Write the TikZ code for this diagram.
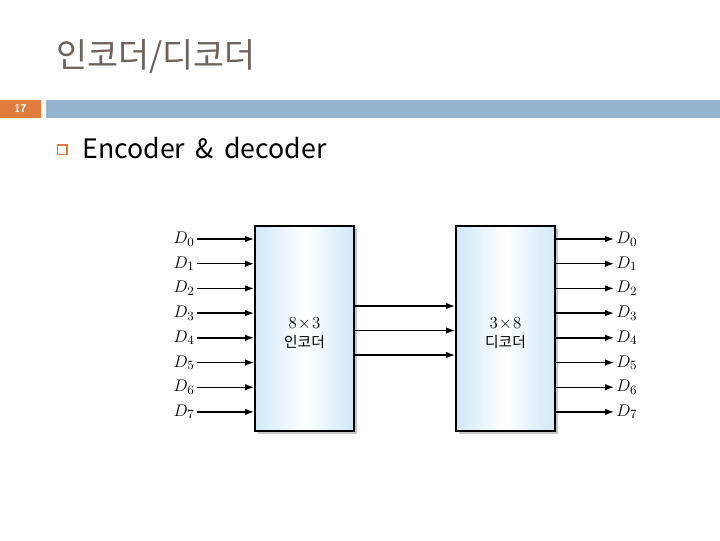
\documentclass[tikz,border=0pt]{standalone}
\usepackage{fontspec}
\usepackage{amsmath}
\usetikzlibrary{arrows.meta,shadows}
\newfontfamily\krfont{Noto Sans CJK KR}
\definecolor{titlegray}{RGB}{110,98,92}
\definecolor{slideorange}{RGB}{224,124,62}
\definecolor{slideblue}{RGB}{148,180,208}
\definecolor{boxblue}{RGB}{208,232,248}
\begin{document}
\begin{tikzpicture}[x=0.025cm,y=-0.025cm,
  blockbox/.style={draw,line width=1.4pt,minimum width=2.475cm,minimum height=5.125cm,
    left color=boxblue,right color=boxblue,middle color=white,
    general shadow={fill=black!22,shadow xshift=0.08cm,shadow yshift=-0.08cm}},
  boxtext/.style={align=center,font=\fontsize{12}{13.5}\selectfont},
  sig/.style={line width=1pt,-{Latex[length=2.2mm,width=1.6mm]}},
  dlabel/.style={inner sep=1.5pt,font=\fontsize{12.5}{14}\selectfont}]
\useasboundingbox (0,0) rectangle (720,540);
\node[anchor=west,text=titlegray,font=\krfont\fontsize{24}{28}\selectfont,inner sep=0pt] (title) at (56,57) {인코더/디코더};
\fill[slideorange] (0,100) rectangle (41,118);
\fill[slideblue] (46,100) rectangle (720,118);
\node[text=white,font=\sffamily\bfseries\fontsize{8}{9}\selectfont] (page) at (20.5,109) {17};
\draw[slideorange,line width=1.4pt] (57.5,145) rectangle (67,154.5);
\node[anchor=west,font=\krfont\fontsize{19}{22}\selectfont,inner sep=0pt] (sub) at (82,148) {Encoder \,\&\, decoder};
\node[blockbox] (enc) at (304.5,328.5) {};
\node[blockbox] (dec) at (505.5,328.5) {};
\node[boxtext] (enctext) at (304.5,333) {$8\!\times\!3$\\{\krfont\fontsize{10.5}{12}\selectfont 인코더}};
\node[boxtext] (dectext) at (505.5,333) {$3\!\times\!8$\\{\krfont\fontsize{10.5}{12}\selectfont 디코더}};
\foreach \i in {0,...,7}{
  \node[dlabel,anchor=east] (in\i) at (197,239+24.7*\i) {$D_\i$};
  \draw[sig] (in\i.east) -- (enc.west |- in\i);
  \node[dlabel,anchor=west] (out\i) at (614,239+24.7*\i) {$D_\i$};
  \draw[sig] (dec.east |- out\i) -- (out\i.west);
}
\foreach \j in {0,1,2}{
  \coordinate (m\j) at (354,306+24.5*\j);
  \draw[sig] (enc.east |- m\j) -- (dec.west |- m\j);
}
\end{tikzpicture}
\end{document}
